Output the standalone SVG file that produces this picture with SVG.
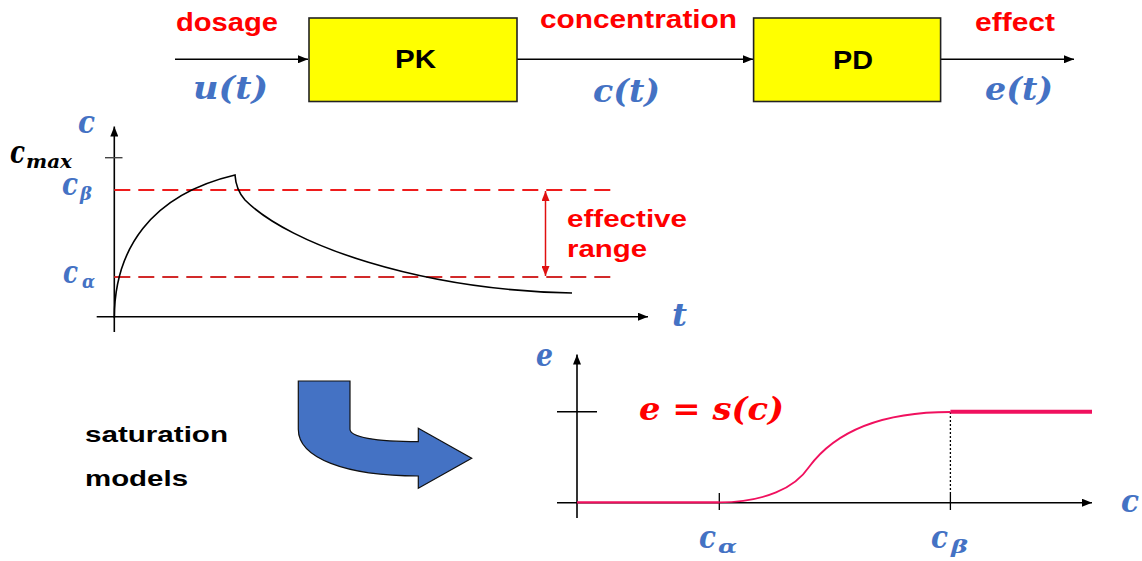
<svg xmlns="http://www.w3.org/2000/svg" width="1142" height="561" viewBox="0 0 1142 561">
<defs>
<style>
.lbl{font-family:"Liberation Sans",Arial,sans-serif;font-weight:bold;font-size:25px;fill:#ff0000}
.blk{font-family:"Liberation Sans",Arial,sans-serif;font-weight:bold;font-size:23px;fill:#000}
.m{font-family:"DejaVu Serif",serif;font-weight:bold;font-style:italic;font-size:32px;fill:#4472c4}
.ms{font-family:"DejaVu Serif",serif;font-weight:bold;font-style:italic;font-size:19px;fill:#4472c4}
.box{fill:#ffff00;stroke:#222;stroke-width:1.6}
.ln{stroke:#000;stroke-width:1.6;fill:none}
.dash{stroke:#ee1c1c;stroke-width:2;stroke-dasharray:16 8;fill:none}
.pink{stroke:#f0105e;fill:none}
</style>
<marker id="ah" markerWidth="10" markerHeight="8" refX="10" refY="4" orient="auto" markerUnits="userSpaceOnUse">
<path d="M0,0 L10,4 L0,8 Z" fill="#000"/>
</marker>
<marker id="rh" markerWidth="10" markerHeight="8" refX="10" refY="4" orient="auto-start-reverse" markerUnits="userSpaceOnUse">
<path d="M0,0 L10,4 L0,8 Z" fill="#e01010"/>
</marker>
</defs>
<rect width="1142" height="561" fill="#fff"/>

<g id="connectors">
<line class="ln" x1="175" y1="59.3" x2="308" y2="59.3" marker-end="url(#ah)"/>
<line class="ln" x1="517" y1="59.3" x2="753" y2="59.3" marker-end="url(#ah)"/>
<line class="ln" x1="941" y1="59.3" x2="1074" y2="59.3" marker-end="url(#ah)"/>
</g>

<g id="pk">
<rect class="box" x="309" y="18" width="208" height="83.5"/>
<text class="blk" x="395" y="67.5" style="font-size:25px" textLength="41" lengthAdjust="spacingAndGlyphs">PK</text>
</g>
<g id="pd">
<rect class="box" x="753.6" y="18" width="187" height="83.5"/>
<text class="blk" x="833" y="69" style="font-size:25px" textLength="40" lengthAdjust="spacingAndGlyphs">PD</text>
</g>

<g id="labels-top">
<text class="lbl" x="176" y="30.5" textLength="102" lengthAdjust="spacingAndGlyphs">dosage</text>
<text class="lbl" x="540" y="28" textLength="197" lengthAdjust="spacingAndGlyphs">concentration</text>
<text class="lbl" x="975" y="30.5" textLength="80" lengthAdjust="spacingAndGlyphs">effect</text>
<text class="m" x="193" y="99" textLength="75" lengthAdjust="spacingAndGlyphs">u(t)</text>
<text class="m" x="593" y="102" textLength="67" lengthAdjust="spacingAndGlyphs">c(t)</text>
<text class="m" x="985" y="100" textLength="68" lengthAdjust="spacingAndGlyphs">e(t)</text>
</g>

<g id="pk-chart">
<line class="ln" x1="114.3" y1="332" x2="114.3" y2="126.5" marker-end="url(#ah)"/>
<line class="ln" x1="96.7" y1="316.7" x2="648" y2="316.7" marker-end="url(#ah)"/>
<line stroke="#444" stroke-width="1.4" x1="105" y1="157.7" x2="122.5" y2="157.7"/>
<line class="dash" x1="114.3" y1="190" x2="613" y2="190"/>
<line class="dash" x1="114.3" y1="277" x2="613" y2="277" style="stroke:#d22a2a"/>
<line stroke="#e01010" stroke-width="1.5" x1="545.5" y1="191" x2="545.5" y2="276" marker-start="url(#rh)" marker-end="url(#rh)"/>
<path class="ln" stroke-width="2" d="M114.3,318 C114.5,250 150,195 235,175 C235.5,183 237,191 245,200 C290,245 420,290 572,293"/>
<text class="m" x="78" y="133" textLength="17" lengthAdjust="spacingAndGlyphs">c</text>
<text class="m" x="10" y="163" style="fill:#000" textLength="15" lengthAdjust="spacingAndGlyphs">c</text>
<text class="ms" x="26" y="168" style="fill:#000" textLength="46" lengthAdjust="spacingAndGlyphs">max</text>
<text class="m" x="62" y="195" textLength="16" lengthAdjust="spacingAndGlyphs">c</text>
<text class="ms" x="80" y="200" textLength="12" lengthAdjust="spacingAndGlyphs">β</text>
<text class="m" x="63" y="283" textLength="15" lengthAdjust="spacingAndGlyphs">c</text>
<text class="ms" x="82" y="287.5" textLength="13" lengthAdjust="spacingAndGlyphs">α</text>
<text class="m" x="672" y="326" textLength="15" lengthAdjust="spacingAndGlyphs">t</text>
<text class="lbl" x="567" y="227" style="font-size:24px" textLength="120" lengthAdjust="spacingAndGlyphs">effective</text>
<text class="lbl" x="567" y="257" style="font-size:24px" textLength="80" lengthAdjust="spacingAndGlyphs">range</text>
</g>

<g id="bend-arrow">
<path d="M298.3,381 L350,381 L350,429.3 C350,437 375,441.7 418.3,441.7 L418.3,428.3 L471.7,458.3 L418.3,488.3 L418.3,476 C345,476 298.3,458 298.3,429.3 Z" fill="#4472c4" stroke="#111" stroke-width="1.2"/>
</g>

<g id="saturation-label">
<text class="blk" x="85" y="441.5" style="font-size:22px" textLength="143" lengthAdjust="spacingAndGlyphs">saturation</text>
<text class="blk" x="85" y="486" style="font-size:22px" textLength="103" lengthAdjust="spacingAndGlyphs">models</text>
</g>

<g id="pd-chart">
<line class="ln" x1="577" y1="518" x2="577" y2="354.5" marker-end="url(#ah)"/>
<line class="ln" x1="557" y1="502.7" x2="1092" y2="502.7" marker-end="url(#ah)"/>
<line stroke="#000" stroke-width="1.4" x1="557" y1="411.7" x2="597" y2="411.7"/>
<line stroke="#000" stroke-width="1.3" x1="719.3" y1="493" x2="719.3" y2="510"/>
<line stroke="#000" stroke-width="1.3" x1="950.4" y1="493" x2="950.4" y2="510"/>
<line stroke="#000" stroke-width="1.3" stroke-dasharray="2 2" x1="950.4" y1="412" x2="950.4" y2="493"/>
<line class="pink" stroke-width="2.2" x1="577" y1="502.4" x2="719.3" y2="502.4"/>
<path class="pink" stroke-width="1.8" d="M719.3,502.4 C765,502 795,488 809,467 C840,425 895,412 950.4,412"/>
<line class="pink" stroke-width="4" x1="950.4" y1="411.7" x2="1092" y2="411.7"/>
<text class="m" x="536" y="366" textLength="17" lengthAdjust="spacingAndGlyphs">e</text>
<text class="m" x="639" y="420" style="fill:#ff0000" textLength="145" lengthAdjust="spacingAndGlyphs">e = s(c)</text>
<text class="m" x="1121" y="512" textLength="18" lengthAdjust="spacingAndGlyphs">c</text>
<text class="m" x="699" y="548" textLength="17" lengthAdjust="spacingAndGlyphs">c</text>
<text class="ms" x="718" y="553" textLength="19" lengthAdjust="spacingAndGlyphs">α</text>
<text class="m" x="931" y="548" textLength="17" lengthAdjust="spacingAndGlyphs">c</text>
<text class="ms" x="951" y="553" textLength="17" lengthAdjust="spacingAndGlyphs">β</text>
</g>
</svg>
